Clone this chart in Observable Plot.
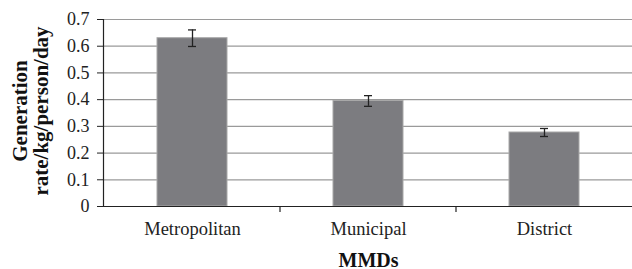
<!DOCTYPE html>
<html>
<head>
<meta charset="utf-8">
<script src="https://cdn.jsdelivr.net/npm/d3@7"></script>
<script src="https://cdn.jsdelivr.net/npm/@observablehq/plot@0.6"></script>
<style>
  html, body { margin: 0; padding: 0; background: #fff; }
  svg { display: block; }
  svg text { font-family: "Liberation Serif", "Times New Roman", serif; }
</style>
</head>
<body>
<div id="chart"></div>
<script>
const categories = ["Metropolitan", "Municipal", "District"];
const rates = [0.630, 0.395, 0.277];
const errors = [0.031, 0.020, 0.015];
const yTicks = [0, 0.1, 0.2, 0.3, 0.4, 0.5, 0.6, 0.7];
const yTitleLines = ["Generation", "rate/kg/person/day"];
const xTitle = "MMDs";

const data = categories.map((c, i) => ({cat: c, rate: rates[i], err: errors[i]}));

const serif = "Liberation Serif, Times New Roman, serif";

const chart = Plot.plot({
  width: 632,
  height: 269,
  marginTop: 19,
  marginBottom: 63,
  marginLeft: 104,
  marginRight: 0,
  style: {fontFamily: serif, background: "#fff", overflow: "visible"},
  x: {type: "band", domain: categories, padding: 0, label: null},
  y: {domain: [0, 0.7], label: null},
  marks: [
    Plot.ruleY(yTicks.slice(1), {stroke: "#9a9a9a", strokeWidth: 1.2, strokeOpacity: 1}),
    Plot.barY(data, {x: "cat", y: "rate", fill: "#7c7c80", stroke: "#a8a8a8", strokeWidth: 1, insetLeft: 53, insetRight: 53}),
    Plot.ruleX(data, {x: "cat", y1: d => d.rate - d.err, y2: d => d.rate + d.err, stroke: "#222", strokeWidth: 1.3}),
    Plot.tickY(data, {x: "cat", y: d => d.rate + d.err, stroke: "#222", strokeWidth: 1.3, insetLeft: 84, insetRight: 84}),
    Plot.tickY(data, {x: "cat", y: d => d.rate - d.err, stroke: "#222", strokeWidth: 1.3, insetLeft: 84, insetRight: 84}),
    Plot.ruleY([0], {stroke: "#222", strokeWidth: 1.2}),
    Plot.axisY({ticks: yTicks, tickFormat: d => d === 0 ? "0" : d3.format(".1f")(d), tickSize: 7, tickPadding: 8, fontSize: 18, fontFamily: serif, label: null, stroke: "#222", color: "#222"}),
    Plot.axisX({tickSize: 0, tickPadding: 15, fontSize: 18.5, fontFamily: serif, label: null, color: "#222"}),
    Plot.text([xTitle], {frameAnchor: "bottom", dy: 60, fontSize: 20, fontFamily: serif, fontWeight: "bold", fill: "#111"}),
    Plot.text([yTitleLines[0]], {frameAnchor: "left", textAnchor: "middle", dx: -84, dy: -2, rotate: -90, fontSize: 21, fontFamily: serif, fontWeight: "bold", fill: "#111"}),
    Plot.text([yTitleLines[1]], {frameAnchor: "left", textAnchor: "middle", dx: -63, dy: -2, rotate: -90, fontSize: 21, fontFamily: serif, fontWeight: "bold", fill: "#111"})
  ]
});

document.getElementById("chart").appendChild(chart);

// axis line and category separator ticks, positioned with the library's scales
const svg = d3.select(chart);
const xs = chart.scale("x");
const ys = chart.scale("y");
const y0 = ys.apply(0);
const yTop = ys.apply(0.7);
const left = xs.apply(categories[0]);
const g = svg.append("g").attr("stroke", "#222").attr("stroke-width", 1.2);
g.append("line").attr("x1", left - 0.5).attr("x2", left - 0.5).attr("y1", yTop).attr("y2", y0 + 0.5);
categories.slice(1).forEach(c => {
  const x = xs.apply(c);
  g.append("line").attr("x1", x).attr("x2", x).attr("y1", y0).attr("y2", y0 + 6);
});
</script>
</body>
</html>
